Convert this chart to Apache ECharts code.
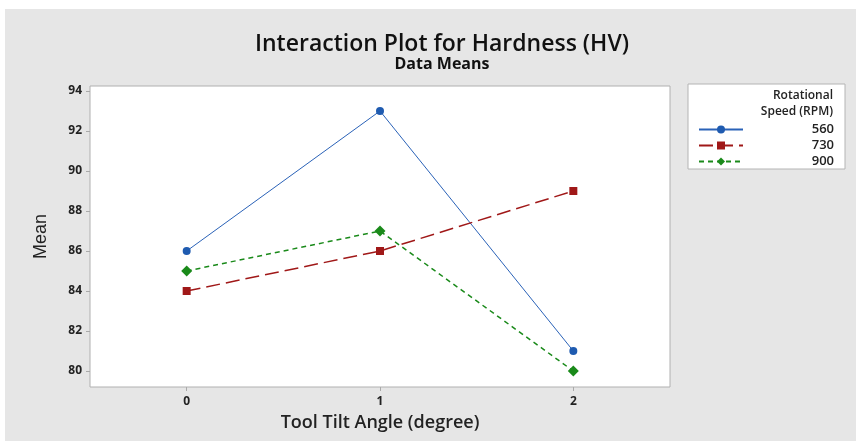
<!DOCTYPE html>
<html>
<head>
<meta charset="utf-8">
<script src="https://cdn.jsdelivr.net/npm/echarts@6/dist/echarts.min.js"></script>
<style>
    html,body{margin:0;padding:0;background:#fff;}
    #chart{width:856px;height:441px;}
</style>
</head>
<body>
<div id="chart"></div>
<script>
// tilt angle levels on the x axis
var tiltAngles = [0, 1, 2];
// mean hardness per rotational speed
var speed560 = [86, 93, 81];
var speed730 = [84, 86, 89];
var speed900 = [85, 87, 80];
var speedNames = ['560', '730', '900'];
var yTicks = [80, 82, 84, 86, 88, 90, 92, 94];

function pairs(vals){
    return tiltAngles.map(function(t, i){ return [t, vals[i]]; });
}

var chart = echarts.init(document.getElementById('chart'));
var font = '"Open Sans", "Noto Sans", sans-serif';

chart.setOption({
    animation: false,
    backgroundColor: '#fff',
    textStyle: {fontFamily: font},
    graphic: [
        {type: 'rect', z: -10, shape: {x: 5, y: 9, width: 851, height: 432}, style: {fill: '#e6e6e6'}},
        {type: 'rect', z: 1, shape: {x: 688, y: 84, width: 157, height: 85}, style: {fill: '#fff', stroke: '#b4b4b4', lineWidth: 1}},
        {type: 'text', z: 2, style: {x: 833, y: 96, text: 'Rotational', textAlign: 'right', textVerticalAlign: 'middle', font: '600 12px ' + font, fill: '#222'}},
        {type: 'text', z: 2, style: {x: 833, y: 112, text: 'Speed (RPM)', textAlign: 'right', textVerticalAlign: 'middle', font: '600 12px ' + font, fill: '#222'}}
    ],
    title: {
        text: 'Interaction Plot for Hardness (HV)',
        subtext: 'Data Means',
        left: 437,
        textAlign: 'center',
        top: 28,
        itemGap: 0,
        textStyle: {fontSize: 23, fontWeight: 600, color: '#111', fontFamily: font},
        subtextStyle: {fontSize: 16, color: '#111', fontWeight: 'bold', fontFamily: font}
    },
    legend: {
        orient: 'vertical',
        left: 693,
        top: 118,
        itemWidth: 44,
        itemHeight: 10,
        itemGap: 3,
        data: speedNames,
        formatter: '{a|{name}}',
        textStyle: {
            color: '#222',
            rich: {a: {width: 86, align: 'right', fontSize: 13, fontWeight: 600, color: '#222', fontFamily: font}}
        }
    },
    grid: {
        left: 90, top: 86, right: 186, bottom: 54,
        show: true, backgroundColor: '#fff', borderColor: '#b0b0b0', borderWidth: 1
    },
    xAxis: {
        type: 'value',
        min: -0.5, max: 2.5,
        interval: 0.5,
        name: 'Tool Tilt Angle (degree)',
        nameLocation: 'middle',
        nameGap: 27,
        nameTextStyle: {fontSize: 18, color: '#222', fontWeight: 600, fontFamily: font},
        axisLine: {show: false, onZero: false},
        axisTick: {show: true, length: 4, lineStyle: {color: '#aaa'}, customValues: tiltAngles},
        axisLabel: {fontSize: 12, fontWeight: 'bold', color: '#222', margin: 9, customValues: tiltAngles, fontFamily: font},
        splitLine: {show: false}
    },
    yAxis: {
        type: 'value',
        min: 79.2, max: 94.25,
        name: 'Mean',
        nameLocation: 'middle',
        nameGap: 40,
        nameTextStyle: {fontSize: 18, color: '#222', fontFamily: 'Liberation Sans, Arial, sans-serif'},
        axisLine: {show: false, onZero: false},
        axisTick: {show: true, length: 4, lineStyle: {color: '#aaa'}, customValues: yTicks},
        axisLabel: {fontSize: 12, fontWeight: 'bold', color: '#222', margin: 8, customValues: yTicks, fontFamily: font},
        splitLine: {show: false}
    },
    series: [
        {
            name: speedNames[0], type: 'line', data: pairs(speed560),
            symbol: 'circle', symbolSize: 8,
            lineStyle: {color: '#2a62b8', width: 1},
            itemStyle: {color: '#1f5bb0'}
        },
        {
            name: speedNames[1], type: 'line', data: pairs(speed730),
            symbol: 'rect', symbolSize: 8,
            lineStyle: {color: '#a01818', width: 1.5, type: [14, 6]},
            itemStyle: {color: '#a01818'}
        },
        {
            name: speedNames[2], type: 'line', data: pairs(speed900),
            symbol: 'diamond', symbolSize: 11,
            lineStyle: {color: '#1a8a1a', width: 1.5, type: [5, 4]},
            itemStyle: {color: '#1a8a1a'}
        }
    ]
});
</script>
</body>
</html>
